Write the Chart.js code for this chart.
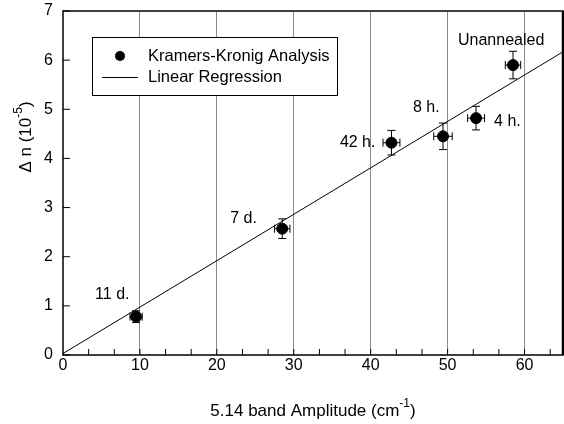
<!DOCTYPE html>
<html>
<head>
<meta charset="utf-8">
<script src="https://cdn.jsdelivr.net/npm/chart.js@4/dist/chart.umd.min.js"></script>
<style>
  html, body { margin: 0; padding: 0; background: #fff; }
  #wrap { width: 564px; height: 424px; }
</style>
</head>
<body>
<div id="wrap"><canvas id="chart" width="564" height="424"></canvas></div>
<script>
// measured values
const amplitude = [9.5, 28.5, 42.7, 49.4, 53.7, 58.5];
const deltaN = [0.78, 2.57, 4.32, 4.45, 4.82, 5.90];
const amplitudeErr = [0.8, 1.0, 1.1, 1.2, 1.1, 1.0];
const deltaNErr = [0.12, 0.2, 0.25, 0.27, 0.24, 0.28];
const pointLabels = ["11 d.", "7 d.", "42 h.", "8 h.", "4 h.", "Unannealed"];

// regression line end points
const fitX = [0, 65];
const fitY = [0.03, 6.17];

const xTicks = [0, 10, 20, 30, 40, 50, 60];
const yTicks = [0, 1, 2, 3, 4, 5, 6, 7];

const FONT = "'Liberation Sans', Arial, sans-serif";

// label placement relative to each point (px), with text alignment
const labelPlace = [
    { dx: -41, dy: -22, align: "left" },
    { dx: -52, dy: -10, align: "left" },
    { dx: -16, dy: 0, align: "right" },
    { dx: -30, dy: -29, align: "left" },
    { dx: 18, dy: 3, align: "left" },
    { dx: -55, dy: -24, align: "left" }
];

// stretch the plot area out to the right edge
const stretch = {
    id: "stretch",
    afterLayout(chart) {
        const xs = chart.scales.x;
        const r = chart.width - 1;
        chart.chartArea.right = r;
        chart.chartArea.width = r - chart.chartArea.left;
        xs.right = r;
        xs.width = r - xs.left;
        xs.configure();
    }
};

const extras = {
    id: "extras",
    afterDatasetsDraw(chart) {
        const ctx = chart.ctx;
        const xs = chart.scales.x, ys = chart.scales.y;
        const a = chart.chartArea;
        ctx.save();
        ctx.strokeStyle = "#000";
        ctx.fillStyle = "#000";
        ctx.lineWidth = 1;

        // error bars
        const cap = 4;
        for (let i = 0; i < amplitude.length; i++) {
            const px = xs.getPixelForValue(amplitude[i]);
            const py = ys.getPixelForValue(deltaN[i]);
            const x0 = xs.getPixelForValue(amplitude[i] - amplitudeErr[i]);
            const x1 = xs.getPixelForValue(amplitude[i] + amplitudeErr[i]);
            const y0 = ys.getPixelForValue(deltaN[i] - deltaNErr[i]);
            const y1 = ys.getPixelForValue(deltaN[i] + deltaNErr[i]);
            ctx.beginPath();
            ctx.moveTo(x0, py); ctx.lineTo(x1, py);
            ctx.moveTo(x0, py - cap); ctx.lineTo(x0, py + cap);
            ctx.moveTo(x1, py - cap); ctx.lineTo(x1, py + cap);
            ctx.moveTo(px, y0); ctx.lineTo(px, y1);
            ctx.moveTo(px - cap, y0); ctx.lineTo(px + cap, y0);
            ctx.moveTo(px - cap, y1); ctx.lineTo(px + cap, y1);
            ctx.stroke();
        }

        // point labels
        ctx.font = "16px " + FONT;
        ctx.textBaseline = "middle";
        for (let i = 0; i < pointLabels.length; i++) {
            const p = labelPlace[i];
            ctx.textAlign = p.align;
            ctx.fillText(pointLabels[i],
                xs.getPixelForValue(amplitude[i]) + p.dx,
                ys.getPixelForValue(deltaN[i]) + p.dy);
        }

        // frame
        ctx.lineWidth = 1.5;
        ctx.strokeRect(a.left, a.top, a.right - a.left, a.bottom - a.top);
        ctx.lineWidth = 2.5;
        ctx.beginPath();
        ctx.moveTo(a.right, a.top); ctx.lineTo(a.right, a.bottom);
        ctx.stroke();

        // inward ticks
        ctx.lineWidth = 1;
        ctx.beginPath();
        for (let v = 10 / 3; v < 65; v += 10 / 3) {
            const px = xs.getPixelForValue(v);
            ctx.moveTo(px, a.bottom); ctx.lineTo(px, a.bottom - 6);
        }
        yTicks.forEach(v => {
            const py = ys.getPixelForValue(v);
            ctx.moveTo(a.left, py); ctx.lineTo(a.left + 7, py);
        });
        ctx.stroke();

        // legend box
        const lx = 92, ly = 37, lw = 245, lh = 58;
        ctx.fillStyle = "#fff";
        ctx.fillRect(lx, ly, lw, lh);
        ctx.lineWidth = 1;
        ctx.strokeRect(lx + 0.5, ly + 0.5, lw, lh);
        ctx.fillStyle = "#000";
        ctx.beginPath();
        ctx.arc(120, 56, 5, 0, Math.PI * 2);
        ctx.fill();
        ctx.beginPath();
        ctx.moveTo(102, 77.5); ctx.lineTo(138, 77.5);
        ctx.stroke();
        ctx.textAlign = "left";
        ctx.font = "16.5px " + FONT;
        ctx.fillText("Kramers-Kronig Analysis", 148, 56);
        ctx.fillText("Linear Regression", 148, 77);

        // axis titles with superscripts
        const xt1 = "5.14 band Amplitude (cm", xsup = "-1", xt2 = ")";
        ctx.font = "17px " + FONT;
        const w1 = ctx.measureText(xt1).width;
        const w3 = ctx.measureText(xt2).width;
        ctx.font = "12px " + FONT;
        const w2 = ctx.measureText(xsup).width;
        let sx = (a.left + a.right) / 2 - (w1 + w2 + w3) / 2;
        ctx.font = "17px " + FONT;
        ctx.fillText(xt1, sx, 411);
        ctx.font = "12px " + FONT;
        ctx.fillText(xsup, sx + w1, 404);
        ctx.font = "17px " + FONT;
        ctx.fillText(xt2, sx + w1 + w2, 411);

        ctx.translate(26, 137);
        ctx.rotate(-Math.PI / 2);
        const yt1 = "\u0394 n (10", ysup = "-5", yt2 = ")";
        ctx.font = "17px " + FONT;
        const v1 = ctx.measureText(yt1).width;
        const v3 = ctx.measureText(yt2).width;
        ctx.font = "12px " + FONT;
        const v2 = ctx.measureText(ysup).width;
        let sy = -(v1 + v2 + v3) / 2;
        ctx.font = "17px " + FONT;
        ctx.fillText(yt1, sy, 0);
        ctx.font = "12px " + FONT;
        ctx.fillText(ysup, sy + v1, -7);
        ctx.font = "17px " + FONT;
        ctx.fillText(yt2, sy + v1 + v2, 0);
        ctx.restore();
    }
};

new Chart(document.getElementById("chart"), {
    type: "scatter",
    data: {
        datasets: [
            {
                label: "Kramers-Kronig Analysis",
                data: amplitude.map((x, i) => ({ x: x, y: deltaN[i] })),
                backgroundColor: "#000",
                borderColor: "#000",
                pointRadius: 5.5,
                order: 1
            },
            {
                label: "Linear Regression",
                type: "line",
                data: fitX.map((x, i) => ({ x: x, y: fitY[i] })),
                borderColor: "#000",
                borderWidth: 1,
                pointRadius: 0,
                fill: false,
                order: 2
            }
        ]
    },
    options: {
        responsive: false,
        animation: false,
        layout: { padding: { top: 11, right: 1, left: 0, bottom: 0 } },
        plugins: {
            legend: { display: false },
            tooltip: { enabled: false }
        },
        scales: {
            x: {
                type: "linear",
                min: 0,
                max: 65,
                afterBuildTicks: s => { s.ticks = xTicks.map(v => ({ value: v })); },
                afterFit: s => { s.height = 69; s.paddingLeft = 0; s.paddingRight = 0; },
                ticks: { color: "#000", font: { family: FONT, size: 16 }, padding: 1, maxRotation: 0 },
                grid: {
                    color: c => (c.tick && c.tick.value > 0 ? "#8a8a8a" : "rgba(0,0,0,0)"),
                    lineWidth: 1,
                    drawTicks: false
                },
                border: { display: false }
            },
            y: {
                min: 0,
                max: 7,
                afterBuildTicks: s => { s.ticks = yTicks.map(v => ({ value: v })); },
                afterFit: s => { s.width = 63; s.paddingTop = 0; s.paddingBottom = 0; },
                ticks: { color: "#000", font: { family: FONT, size: 16 }, padding: 10 },
                grid: { display: false, drawTicks: false },
                border: { display: false }
            }
        }
    },
    plugins: [stretch, extras]
});
</script>
</body>
</html>
